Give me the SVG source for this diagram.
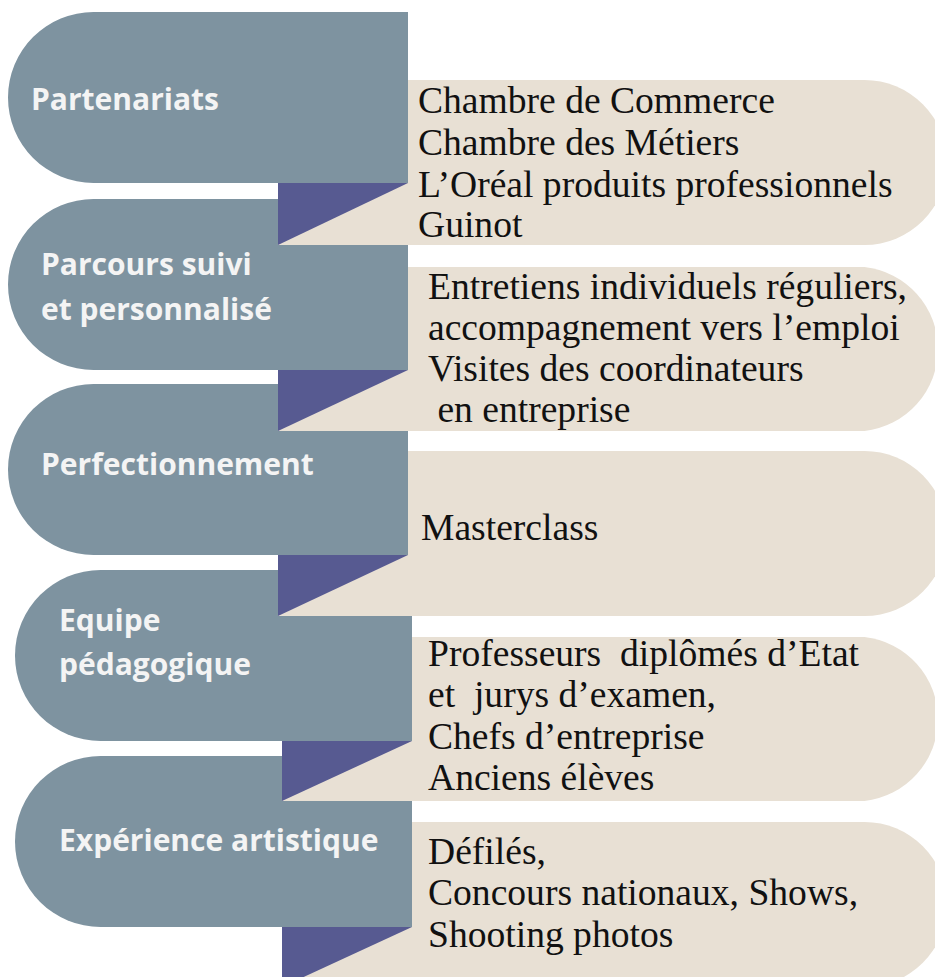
<svg xmlns="http://www.w3.org/2000/svg" width="935" height="977" viewBox="0 0 935 977">
<style>
.lbl{fill:#7e93a0}
.cnt{fill:#e8e0d4}
.tri{fill:#575a91}
.lt{font-family:"Open Sans","Liberation Sans",sans-serif;font-weight:700;font-size:30px;fill:#f4f4f4}
.rt{font-family:"Liberation Serif",serif;font-size:37.6px;fill:#111111}
</style>
<rect width="935" height="977" fill="#ffffff"/>
<g id="nodes">
<g id="node5">
<path class="cnt" d="M282,822 H864.5 A82.5,82.5 0 0 1 864.5,987 H282 Z"/>
<path class="lbl" d="M100.5,756 H412 V927 H100.5 A85.5,85.5 0 0 1 100.5,756 Z"/>
<text class="lt" x="59" y="851">Expérience artistique</text>
<text class="rt" x="428" y="864">Défilés,</text>
<text class="rt" x="428" y="905">Concours nationaux, Shows,</text>
<text class="rt" x="428" y="947">Shooting photos</text>
</g>
<g id="node4">
<path class="cnt" d="M282,637 H864.5 A82.5,82.5 0 0 1 864.5,801 H282 Z"/>
<path class="lbl" d="M100.5,570 H412 V741 H100.5 A85.5,85.5 0 0 1 100.5,570 Z"/>
<text class="lt" x="59" y="631">Equipe</text>
<text class="lt" x="59" y="675">pédagogique</text>
<text class="rt" x="428" y="666" xml:space="preserve">Professeurs  diplômés d’Etat</text>
<text class="rt" x="428" y="707" xml:space="preserve">et  jurys d’examen,</text>
<text class="rt" x="428" y="749">Chefs d’entreprise</text>
<text class="rt" x="428" y="790">Anciens élèves</text>
</g>
<g id="node3">
<path class="cnt" d="M278,451 H864.5 A82.5,82.5 0 0 1 864.5,616 H278 Z"/>
<path class="lbl" d="M93.5,384 H408 V555 H93.5 A85.5,85.5 0 0 1 93.5,384 Z"/>
<text class="lt" x="41" y="475">Perfectionnement</text>
<text class="rt" x="421" y="540">Masterclass</text>
</g>
<g id="node2">
<path class="cnt" d="M278,267 H864.5 A82.5,82.5 0 0 1 864.5,431 H278 Z"/>
<path class="lbl" d="M93.5,199 H408 V370 H93.5 A85.5,85.5 0 0 1 93.5,199 Z"/>
<text class="lt" x="41" y="275">Parcours suivi</text>
<text class="lt" x="41" y="320">et personnalisé</text>
<text class="rt" x="428" y="299">Entretiens individuels réguliers,</text>
<text class="rt" x="428" y="340">accompagnement vers l’emploi</text>
<text class="rt" x="428" y="381">Visites des coordinateurs</text>
<text class="rt" x="428" y="422" xml:space="preserve"> en entreprise</text>
</g>
<g id="node1">
<path class="cnt" d="M278,80 H864.5 A82.5,82.5 0 0 1 864.5,245 H278 Z"/>
<path class="lbl" d="M93.5,12 H408 V183 H93.5 A85.5,85.5 0 0 1 93.5,12 Z"/>
<text class="lt" x="31" y="110">Partenariats</text>
<text class="rt" x="418" y="113">Chambre de Commerce</text>
<text class="rt" x="418" y="155">Chambre des Métiers</text>
<text class="rt" x="418" y="197">L’Oréal produits professionnels</text>
<text class="rt" x="418" y="237">Guinot</text>
</g>
</g>
<g id="connectors">
<polygon class="tri" points="278,183 408,183 278,245"/>
<polygon class="tri" points="278,370 408,370 278,431"/>
<polygon class="tri" points="278,555 408,555 278,616"/>
<polygon class="tri" points="282,741 412,741 282,801"/>
<polygon class="tri" points="282,927 412,927 282,987"/>
</g>
</svg>
